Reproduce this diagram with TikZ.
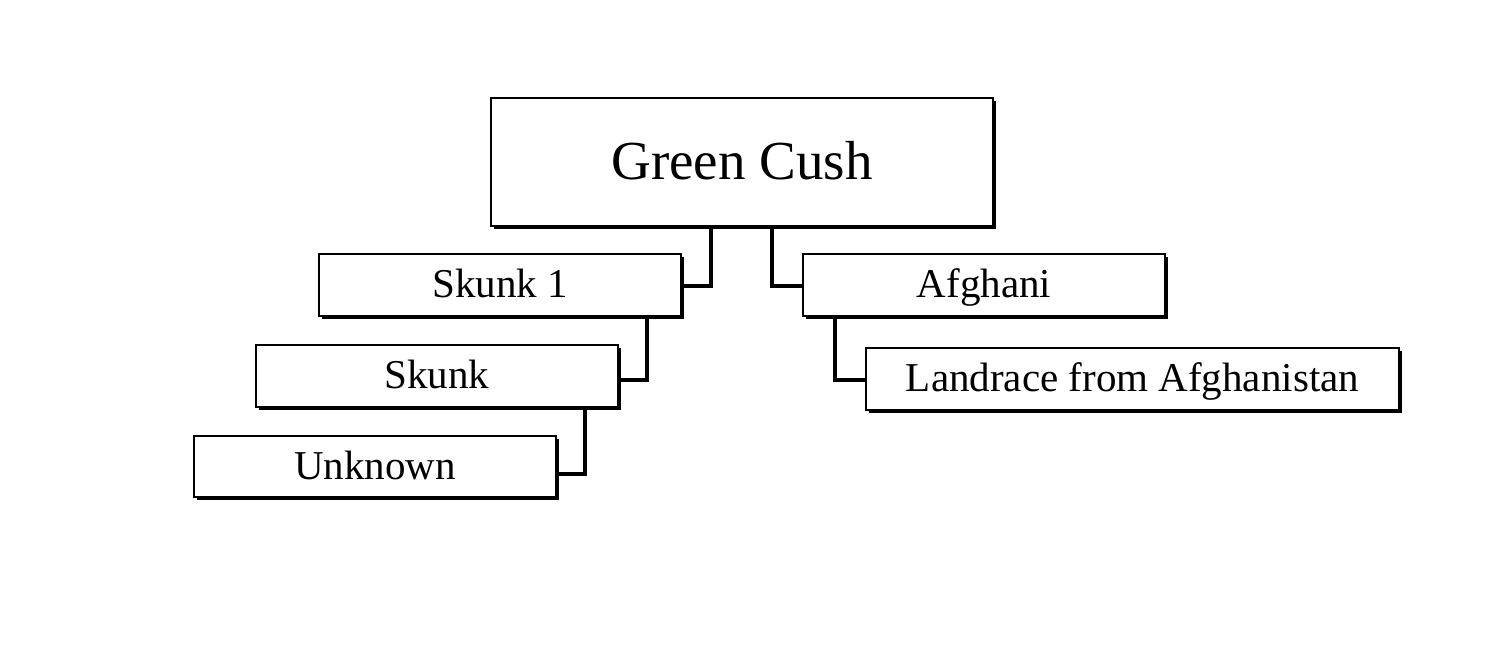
\documentclass[tikz,border=0pt]{standalone}
\usepackage{fontspec}
\setmainfont{Liberation Serif}
\begin{document}
\begin{tikzpicture}[x=0.5pt,y=-0.5pt,
 conn/.style={line width=1.6pt}]
\useasboundingbox (0,0) rectangle (1486,667);
\newcommand{\bx}[7]{%
 \fill (#2+3,#3+3) rectangle (#4+3,#5+3);
 \draw[line width=1pt,fill=white] (#2,#3) rectangle (#4,#5);
 \node[anchor=base,inner sep=0pt] (#1) at ({(#2+#4)/2},{(#3+#5)/2+#7}) {#6};}
\bx{g}{491}{98}{993}{226}{\fontsize{27.5}{30}\selectfont Green Cush}{18}
\bx{s1}{319}{254}{681}{316}{\fontsize{20.5}{24}\selectfont Skunk 1}{13}
\bx{s}{256}{345}{618}{407}{\fontsize{20.5}{24}\selectfont Skunk}{13}
\bx{u}{194}{436}{556}{497}{\fontsize{20.5}{24}\selectfont Unknown}{13}
\bx{a}{803}{254}{1165}{316}{\fontsize{20.5}{24}\selectfont Afghani}{13}
\bx{l}{866}{348}{1399}{410}{\fontsize{20.5}{24}\selectfont Landrace from Afghanistan}{13}
\draw[conn] (711,228) -- (711,286) -- (684,286);
\draw[conn] (772,228) -- (772,286) -- (803,286);
\draw[conn] (647,318) -- (647,380) -- (621,380);
\draw[conn] (585,409) -- (585,474) -- (559,474);
\draw[conn] (835,318) -- (835,380) -- (866,380);
\end{tikzpicture}
\end{document}
